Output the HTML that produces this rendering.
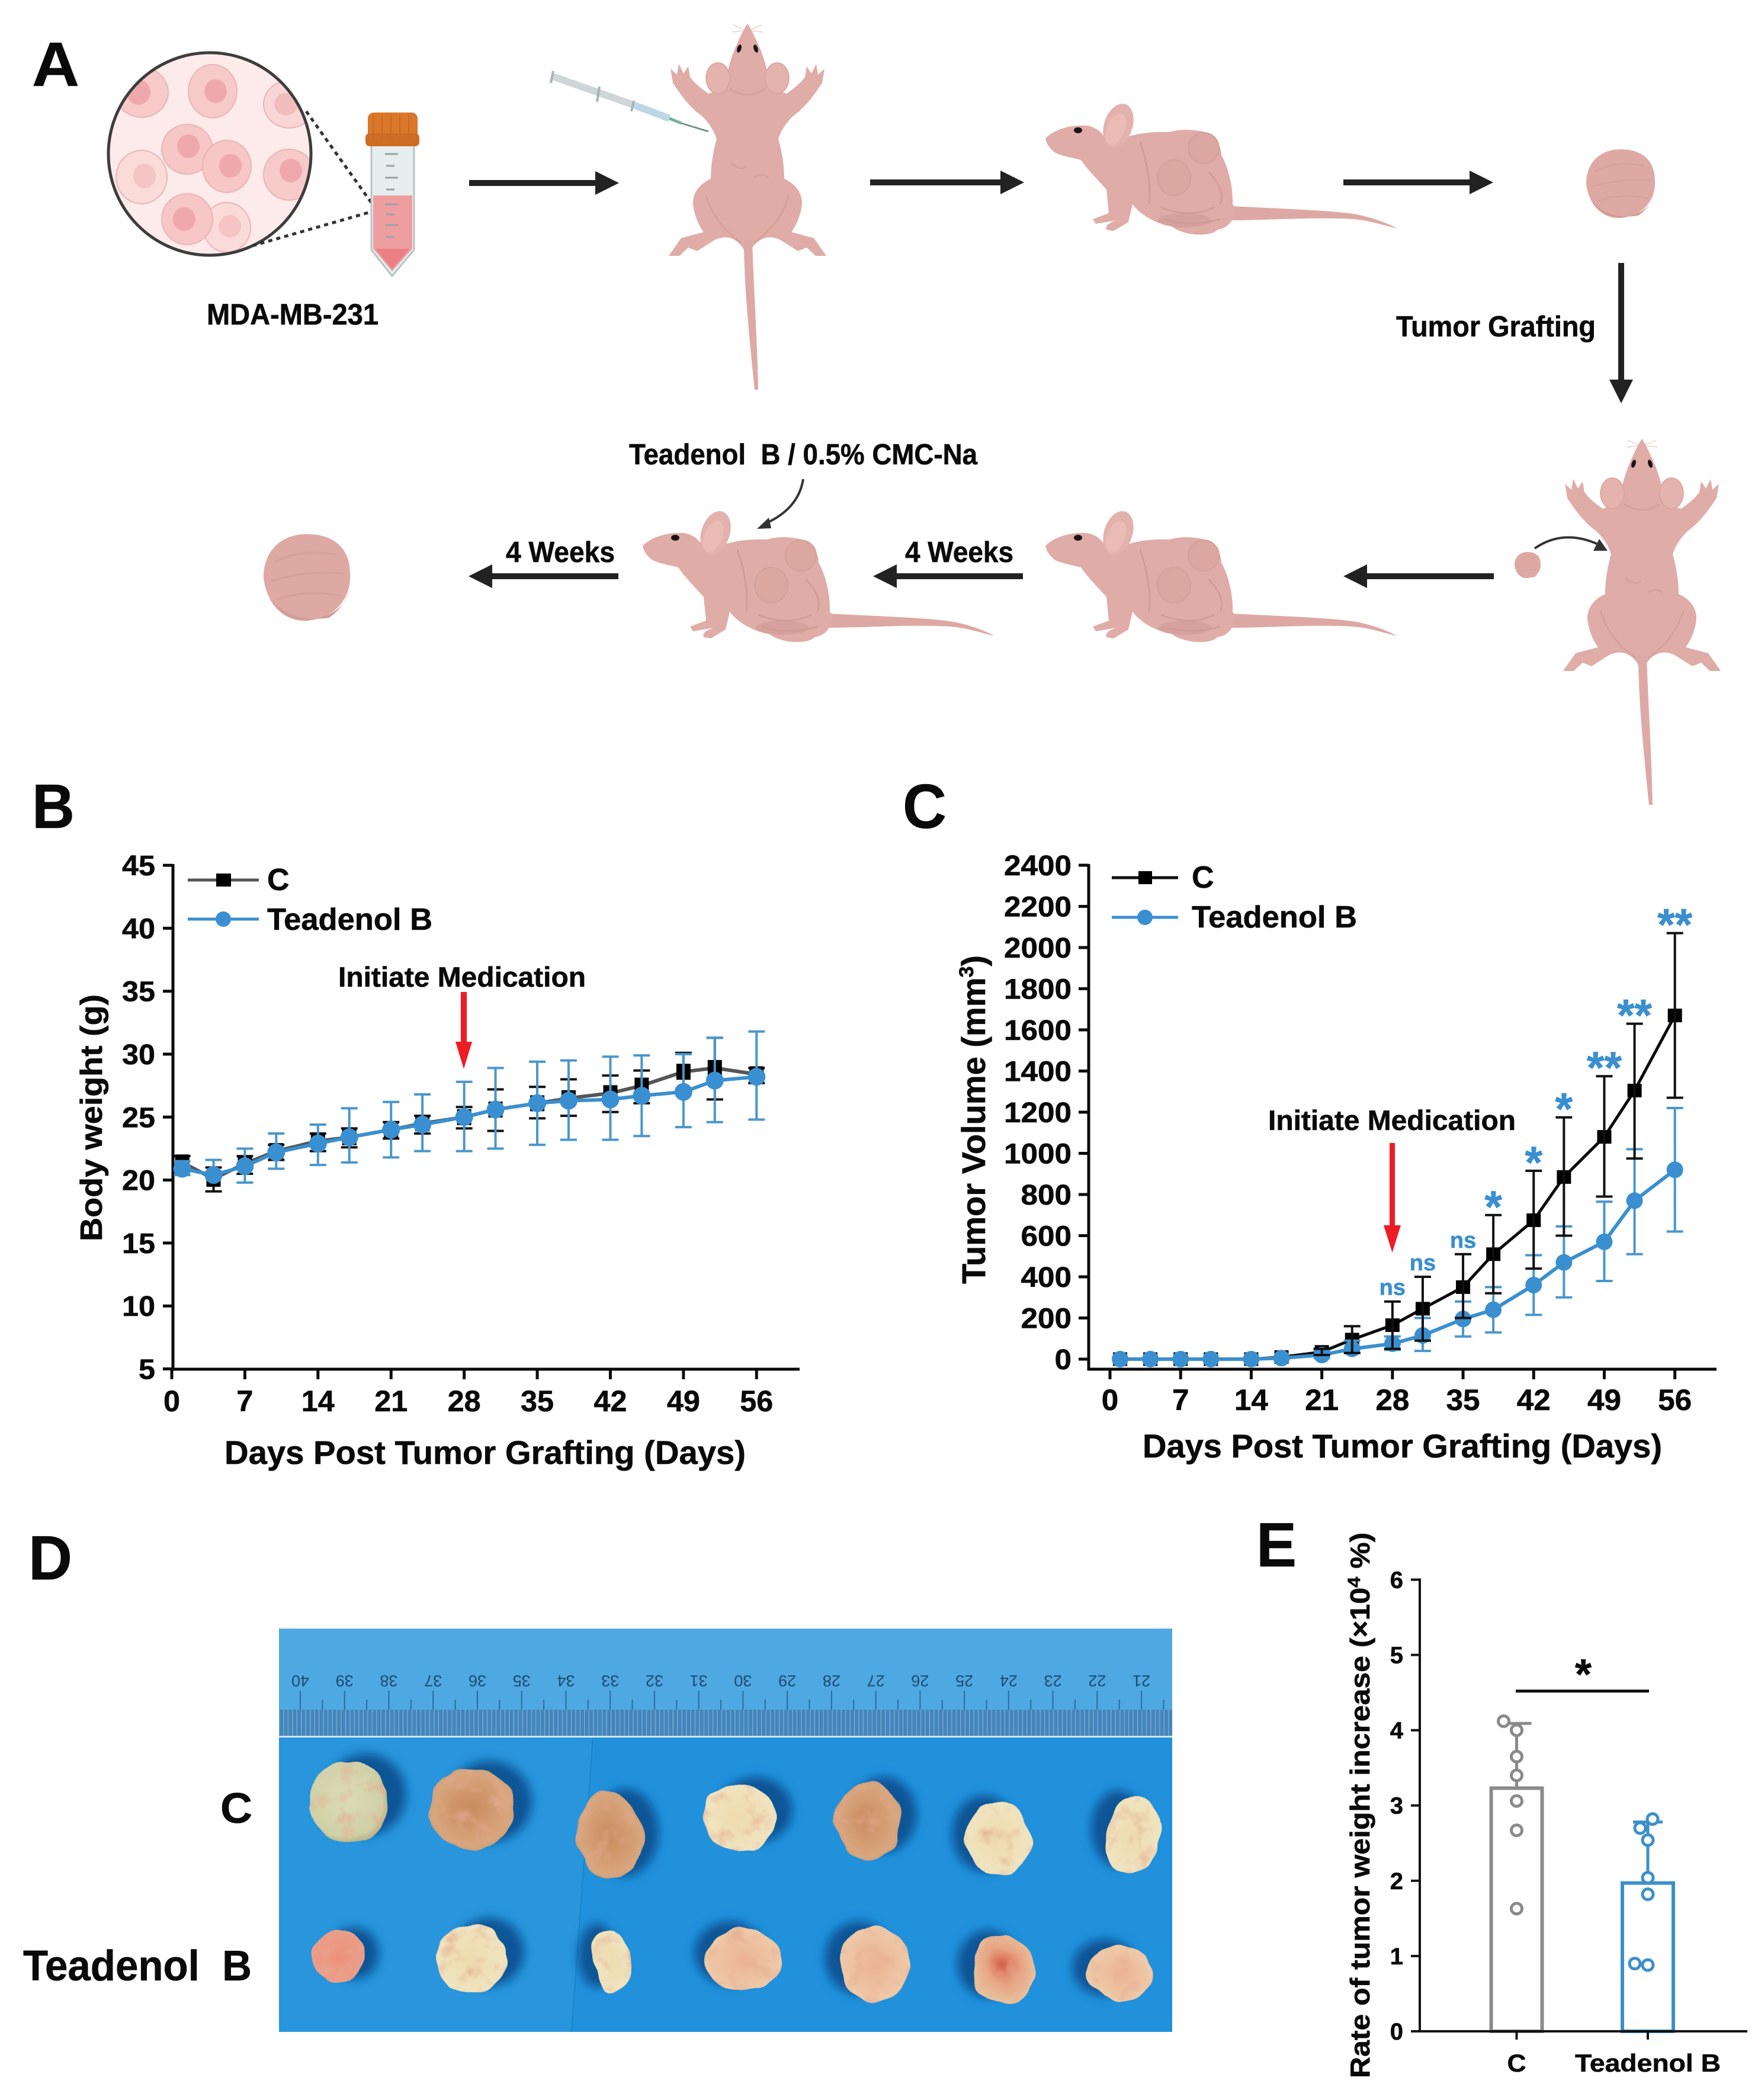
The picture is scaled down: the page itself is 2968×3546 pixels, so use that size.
<!DOCTYPE html>
<html lang="en">
<head>
<meta charset="utf-8">
<title>Teadenol B tumor xenograft figure</title>
<style>
html,body{margin:0;padding:0;background:#fff;}
svg{display:block;}
text{font-family:"Liberation Sans",sans-serif;font-weight:bold;fill:#0a0a0a;stroke:#0a0a0a;stroke-width:0.6;}
</style>
</head>
<body>
<svg id="fig" xmlns="http://www.w3.org/2000/svg" width="2968" height="3546" viewBox="0 0 2968 3546">
<defs>
  <clipPath id="lens"><circle cx="354" cy="260" r="171"/></clipPath>
  <clipPath id="photoClip"><rect x="471" y="2750" width="1508" height="681"/></clipPath>
  <filter id="soft" x="-30%" y="-30%" width="160%" height="160%"><feGaussianBlur stdDeviation="8"/></filter>
  <filter id="lump" x="-25%" y="-25%" width="150%" height="150%">
    <feTurbulence type="fractalNoise" baseFrequency="0.02" numOctaves="2" seed="7" result="shapeNoise"/>
    <feDisplacementMap in="SourceGraphic" in2="shapeNoise" scale="18" xChannelSelector="R" yChannelSelector="G" result="lumped"/>
    <feTurbulence type="fractalNoise" baseFrequency="0.035" numOctaves="3" seed="3" result="mottle"/>
    <feColorMatrix in="mottle" type="matrix" values="0 0 0 0 0.78  0 0 0 0 0.40  0 0 0 0 0.28  0 0 0 1.8 -0.9" result="blotch"/>
    <feComposite in="blotch" in2="lumped" operator="in" result="blotchIn"/>
    <feMerge><feMergeNode in="lumped"/><feMergeNode in="blotchIn"/></feMerge>
  </filter>
  <pattern id="mm" x="0" y="0" width="7.47" height="50" patternUnits="userSpaceOnUse"><rect width="7.47" height="50" fill="#4485bb"/><rect width="1.6" height="50" fill="#72a6cf"/></pattern>
  <radialGradient id="tPale" cx="45%" cy="45%" r="60%"><stop offset="0" stop-color="#dcdcb8"/><stop offset="0.8" stop-color="#cfd0a6"/><stop offset="1" stop-color="#a9a67e"/></radialGradient>
  <radialGradient id="tOrange" cx="50%" cy="50%" r="60%"><stop offset="0" stop-color="#c98a5c"/><stop offset="0.75" stop-color="#d8a67e"/><stop offset="1" stop-color="#b9966e"/></radialGradient>
  <radialGradient id="tCream" cx="50%" cy="50%" r="60%"><stop offset="0" stop-color="#eedcae"/><stop offset="0.8" stop-color="#efe3bf"/><stop offset="1" stop-color="#c9bd8e"/></radialGradient>
  <radialGradient id="tPeach" cx="50%" cy="50%" r="60%"><stop offset="0" stop-color="#ecb294"/><stop offset="0.8" stop-color="#eec9a8"/><stop offset="1" stop-color="#d2ad8e"/></radialGradient>
  <radialGradient id="tPink" cx="50%" cy="50%" r="60%"><stop offset="0" stop-color="#ee8f78"/><stop offset="1" stop-color="#e9a18e"/></radialGradient>
  <radialGradient id="tRed" cx="50%" cy="45%" r="60%"><stop offset="0" stop-color="#d65f4c"/><stop offset="0.45" stop-color="#e8a382"/><stop offset="1" stop-color="#e6cda6"/></radialGradient>

  <g id="mouse-top">
    <path fill="#dfaca7" d="M0,40 C-6,48 -14,66 -22,84 C-28,100 -32,112 -34,125 L-40,150 L-66,158 C-78,150 -90,140 -97,130 L-100,112 L-108,124 L-116,108 L-119,126 L-130,116 L-126,140 C-118,152 -100,180 -78,195 C-62,210 -55,225 -52,235 C-58,255 -62,280 -62,302 C-80,310 -93,325 -92,345 C-90,362 -84,378 -74,392 L-112,402 L-133,432 L-115,432 L-100,418 L-85,424 L-60,408 C-40,395 -20,400 -7,420 L-3,430 L3,430 L7,420 C20,400 40,395 60,408 L85,424 L100,418 L115,432 L133,432 L112,402 L74,392 C84,378 90,362 92,345 C93,325 80,310 62,302 C62,280 58,255 52,235 C55,225 62,210 78,195 C100,180 118,152 126,140 L130,116 L119,126 L116,108 L108,124 L100,112 L97,130 C90,140 78,150 66,158 L40,150 L34,125 C32,112 28,100 22,84 C14,66 6,48 0,40 Z"/>
    <path fill="#dda9a4" d="M-6,405 C-6,480 2,560 12,658 L18,658 C16,560 10,480 8,405 Z"/>
    <ellipse cx="-50" cy="132" rx="20" ry="26" fill="#e4b3ae" stroke="#d9a29c" stroke-width="1.500"/>
    <ellipse cx="50" cy="132" rx="20" ry="26" fill="#e4b3ae" stroke="#d9a29c" stroke-width="1.500"/>
    <ellipse cx="-14" cy="82" rx="3.500" ry="7" fill="#1c1414" transform="rotate(18 -14 82)"/>
    <ellipse cx="14" cy="82" rx="3.500" ry="7" fill="#1c1414" transform="rotate(-18 14 82)"/>
    <path d="M-30,150 Q0,170 30,150 M-28,275 Q-10,290 -2,280 M10,300 Q25,290 35,300 M-70,330 Q-55,380 -10,410 M70,330 Q55,380 10,410" fill="none" stroke="#d4a09a" stroke-width="2.500"/>
    <path d="M-6,50 L-24,42 M-6,52 L-26,54 M6,50 L24,42 M6,52 L26,54" stroke="#e8cfcb" stroke-width="1.500"/>
  </g>

  <g id="mouse-side">
    <path fill="#dda8a3" d="M2078,348 C2150,352 2250,355 2290,362 C2320,368 2345,378 2359,386 C2335,380 2310,372 2285,370 C2220,366 2140,372 2078,372 Z"/>
    <path fill="#dfaca7" d="M1765,234 C1775,222 1800,212 1825,212 C1840,210 1855,218 1862,228 L1900,232 C1925,224 1950,222 1975,223 C1990,218 2010,218 2030,222 C2050,228 2062,245 2062,262 C2075,285 2082,320 2081,345 L2085,350 C2085,370 2075,385 2055,388 C2050,395 2030,398 2010,395 C1995,392 1985,388 1978,382 C1950,378 1925,362 1912,345 L1905,375 L1880,390 L1868,388 C1865,380 1875,375 1885,372 L1850,378 L1845,370 L1872,360 L1868,320 C1850,300 1835,285 1825,270 C1805,265 1785,262 1778,255 C1770,248 1766,240 1765,234 Z"/>
    <ellipse cx="1888" cy="212" rx="24" ry="38" fill="#e3b2ac" transform="rotate(18 1888 212)"/>
    <ellipse cx="1884" cy="218" rx="15" ry="28" fill="#ebbcb5" transform="rotate(22 1884 218)"/>
    <ellipse cx="1820" cy="220" rx="7" ry="5" fill="#1c1414"/>
    <ellipse cx="1982" cy="300" rx="28" ry="30" fill="#dca6a1" stroke="#d4a09a" stroke-width="2"/>
    <ellipse cx="2032" cy="250" rx="26" ry="26" fill="#dca6a1" stroke="#d4a09a" stroke-width="2"/>
    <path d="M1925,240 Q1945,300 1940,345 M1960,350 Q2010,370 2050,350 M1965,370 Q2010,385 2060,370 M2040,290 Q2070,320 2060,345" fill="none" stroke="#d09b95" stroke-width="2.500"/>
    <ellipse cx="2000" cy="372" rx="45" ry="12" fill="#cf9a94" opacity="0.6"/>
  </g>

  <g id="tumor-ball">
    <path d="M-58,0 C-58,-35 -35,-58 0,-58 C35,-58 58,-40 58,-5 C60,25 40,55 0,58 C-35,60 -55,30 -58,0 Z" fill="#dfa9a3"/>
    <path d="M-44,-20 Q-5,-40 40,-30 M-48,5 Q0,-10 50,-5 M-40,30 Q0,15 46,25" stroke="#d7a09a" stroke-width="2.500" fill="none"/>
    <path d="M-50,28 Q-20,62 30,54 Q50,40 56,18 Q50,50 0,58 Q-35,55 -50,28" fill="#d29d97"/>
  </g>
</defs>

<rect width="2968" height="3546" fill="#ffffff"/>

<!-- Panel letters -->
<text x="54" y="145" font-size="106" textLength="80" lengthAdjust="spacingAndGlyphs">A</text>
<text x="54" y="1398" font-size="106" textLength="72" lengthAdjust="spacingAndGlyphs">B</text>
<text x="1524" y="1398" font-size="106" textLength="74" lengthAdjust="spacingAndGlyphs">C</text>
<text x="48" y="2667" font-size="106" textLength="74" lengthAdjust="spacingAndGlyphs">D</text>
<text x="2121" y="2645" font-size="106" textLength="68" lengthAdjust="spacingAndGlyphs">E</text>

<!-- Panel A schematic -->
<g>
  <g>
    <circle cx="354" cy="260" r="171" fill="#fdeaea"/>
    <g clip-path="url(#lens)" stroke="#e9b5b5" stroke-width="2">
      <ellipse cx="239" cy="156" rx="45" ry="42" fill="#f7c9c9"/><ellipse cx="234" cy="156" rx="20" ry="21" fill="#efa9ad" stroke="none"/>
      <ellipse cx="359" cy="154" rx="41" ry="45" fill="#f7caca"/><ellipse cx="364" cy="154" rx="19" ry="20" fill="#efa9ad" stroke="none"/>
      <ellipse cx="488" cy="176" rx="43" ry="40" fill="#f9d6d6"/><ellipse cx="483" cy="176" rx="20" ry="19" fill="#f3bdbd" stroke="none"/>
      <ellipse cx="239" cy="299" rx="43" ry="45" fill="#fbdada"/><ellipse cx="244" cy="297" rx="19" ry="21" fill="#f5c4c4" stroke="none"/>
      <ellipse cx="488" cy="295" rx="43" ry="43" fill="#f7caca"/><ellipse cx="491" cy="288" rx="19" ry="20" fill="#efa9ad" stroke="none"/>
      <ellipse cx="383" cy="384" rx="40" ry="42" fill="#fbdada"/><ellipse cx="388" cy="382" rx="19" ry="19" fill="#f5c4c4" stroke="none"/>
      <ellipse cx="316" cy="252" rx="43" ry="42" fill="#f7c6c6"/><ellipse cx="318" cy="247" rx="19" ry="20" fill="#efa9ad" stroke="none"/>
      <ellipse cx="383" cy="281" rx="41" ry="44" fill="#f7c6c6"/><ellipse cx="389" cy="280" rx="19" ry="20" fill="#efa9ad" stroke="none"/>
      <ellipse cx="316" cy="370" rx="43" ry="43" fill="#f7c6c6"/><ellipse cx="311" cy="370" rx="19" ry="20" fill="#efa9ad" stroke="none"/>
    </g>
    <circle cx="354" cy="260" r="171" fill="none" stroke="#3d3d3d" stroke-width="5"/>
  </g>
  <path d="M517,188 L636,355 M426,415 L636,355" stroke="#333" stroke-width="5" stroke-dasharray="7 7" fill="none"/>
  <g>
    <path d="M627,245 L699,245 L699,422 L662,466 L627,422 Z" fill="#e7eef0" stroke="#b9c2c6" stroke-width="3"/>
    <path d="M630,330 L696,330 L696,420 L662,458 L630,420 Z" fill="#ef9ea0"/>
    <path d="M634,420 L692,420 L662,454 Z" fill="#ea7f86"/>
    <path d="M650,260 h22 M652,280 h14 M650,300 h22 M652,320 h14 M650,345 h22 M652,362 h14 M650,380 h22 M652,400 h14" stroke="#98a2a6" stroke-width="3" fill="none"/>
    <rect x="621" y="190" width="84" height="48" rx="10" fill="#d9772a"/>
    <rect x="617" y="225" width="91" height="22" rx="7" fill="#cf6d25"/>
    <path d="M630,195 v40 M645,195 v40 M660,195 v40 M675,195 v40 M690,195 v40" stroke="#c96a22" stroke-width="2"/>
  </g>
  <text x="349" y="548" font-size="50" textLength="290" lengthAdjust="spacingAndGlyphs">MDA-MB-231</text>

  <g>
    <path d="M933,129 L1072,178" stroke="#cfd6d8" stroke-width="12" fill="none"/>
    <path d="M1072,178 L1130,200" stroke="#bdd6e4" stroke-width="12" fill="none"/>
    <path d="M1130,200 L1150,208" stroke="#6fb59c" stroke-width="5" fill="none"/>
    <path d="M1150,208 L1196,222" stroke="#7d8a90" stroke-width="3" fill="none"/>
    <path d="M934,120 L930,140 M1012,146 L1008,172 M1070,170 L1066,188" stroke="#aab3b6" stroke-width="4" fill="none"/>
  </g>

  <use href="#mouse-top" transform="translate(1262,0)"/>
  <use href="#mouse-side"/>
  <use href="#tumor-ball" transform="translate(2736,310)"/>
  <use href="#mouse-top" transform="translate(2772,701)"/>
  <use href="#mouse-side" transform="translate(0,688)"/>
  <use href="#mouse-side" transform="translate(-680,688)"/>
  <use href="#tumor-ball" transform="translate(518,975) scale(1.26)"/>
  <use href="#tumor-ball" transform="translate(2579,954) scale(0.38)"/>

  <path d="M2591,926 Q2640,892 2700,920" fill="none" stroke="#333" stroke-width="4"/>
  <polygon points="2714,930 2690,930 2700,910" fill="#333"/>
  <path d="M1356,809 Q1348,860 1290,885" fill="none" stroke="#333" stroke-width="4"/>
  <polygon points="1278,893 1298,874 1302,892" fill="#333"/>

  <g fill="#222">
    <path d="M792,304 H1005 V289 L1045,309 L1005,329 V314 H792 Z"/>
    <path d="M1469,303 H1689 V288 L1729,308 L1689,328 V313 H1469 Z"/>
    <path d="M2268,303 H2481 V288 L2521,308 L2481,328 V313 H2268 Z"/>
    <path d="M2732,444 H2742 V641 H2757 L2737,681 L2717,641 H2732 Z"/>
    <path d="M2522,968 H2308 V953 L2268,973 L2308,993 V978 H2522 Z"/>
    <path d="M1727,968 H1514 V953 L1474,973 L1514,993 V978 H1727 Z"/>
    <path d="M1044,968 H831 V953 L791,973 L831,993 V978 H1044 Z"/>
  </g>
  <text x="2357" y="568" font-size="49" textLength="337" lengthAdjust="spacingAndGlyphs">Tumor Grafting</text>
  <text x="1062" y="784" font-size="49" textLength="588" lengthAdjust="spacingAndGlyphs">Teadenol&#160; B / 0.5% CMC-Na</text>
  <text x="854" y="949" font-size="49" textLength="184" lengthAdjust="spacingAndGlyphs">4 Weeks</text>
  <text x="1528" y="949" font-size="49" textLength="183" lengthAdjust="spacingAndGlyphs">4 Weeks</text>
</g>

<!-- Panel B -->
<g id="panelB">
  <text transform="translate(172,2096) rotate(-90)" font-size="52" textLength="417" lengthAdjust="spacingAndGlyphs">Body weight (g)</text>
  <text x="379" y="2472" font-size="56" textLength="880" lengthAdjust="spacingAndGlyphs">Days Post Tumor Grafting (Days)</text>
  <text x="571" y="1666" font-size="47" textLength="418" lengthAdjust="spacingAndGlyphs">Initiate Medication</text>
  <path d="M778,1675 H788 V1759 H797 L783,1805 L769,1759 H778 Z" fill="#ee1c25"/>
  <g>
    <line x1="317" x2="437" y1="1486" y2="1486" stroke="#555" stroke-width="5"/>
    <rect x="365" y="1475" width="25" height="22" fill="#000"/>
    <text x="451" y="1503" font-size="52">C</text>
    <line x1="317" x2="437" y1="1552" y2="1552" stroke="#3a8fd0" stroke-width="5"/>
    <circle cx="377" cy="1552" r="13" fill="#3a8fd0"/>
    <text x="451" y="1570" font-size="52" textLength="279" lengthAdjust="spacingAndGlyphs">Teadenol B</text>
  </g>
</g>

<!-- Panel C -->
<g id="panelC">
  <text transform="translate(1663,2168) rotate(-90)" font-size="56">Tumor Volume (mm<tspan font-size="34" dy="-20">3</tspan><tspan dy="20">)</tspan></text>
  <text x="1929" y="2461" font-size="56" textLength="877" lengthAdjust="spacingAndGlyphs">Days Post Tumor Grafting (Days)</text>
  <text x="2141" y="1908" font-size="47" textLength="418" lengthAdjust="spacingAndGlyphs">Initiate Medication</text>
  <path d="M2346,1930 H2355 V2069 H2365 L2350.500,2115 L2336,2069 H2346 Z" fill="#ee1c25"/>
  <g>
    <line x1="1877" x2="1989" y1="1482" y2="1482" stroke="#111" stroke-width="5"/>
    <rect x="1922" y="1471" width="23" height="22" fill="#000"/>
    <text x="2012" y="1499" font-size="52">C</text>
    <line x1="1877" x2="1989" y1="1549" y2="1549" stroke="#3a8fd0" stroke-width="5"/>
    <circle cx="1933" cy="1549" r="13" fill="#3a8fd0"/>
    <text x="2012" y="1566" font-size="52" textLength="279" lengthAdjust="spacingAndGlyphs">Teadenol B</text>
  </g>
</g>

<!-- Panel D -->
<g>
  <text x="372" y="3078" font-size="72" textLength="54" lengthAdjust="spacingAndGlyphs">C</text>
  <text x="39" y="3344" font-size="72" textLength="386" lengthAdjust="spacingAndGlyphs">Teadenol&#160; B</text>
  <g clip-path="url(#photoClip)">
    <rect x="471" y="2933" width="1508" height="498" fill="#2191dc"/>
    <polygon points="471,2933 1001,2933 965,3431 471,3431" fill="#2895dc"/>
    <line x1="1001" y1="2935" x2="965" y2="3431" stroke="#1d82c8" stroke-width="2"/>
    <rect x="471" y="2750" width="1508" height="183" fill="#4ea8e2"/>
    <rect x="471" y="2887" width="1508" height="46" fill="url(#mm)"/>
    <rect x="471" y="2931" width="1508" height="3" fill="#cfe7f6"/>
    <g id="rulerMarks"></g>
    <g fill="#0b5596" filter="url(#soft)">
      <ellipse cx="618" cy="3030" rx="68" ry="69"/><ellipse cx="826" cy="3042" rx="72" ry="69"/><ellipse cx="1056" cy="3094" rx="56" ry="74"/><ellipse cx="1276" cy="3056" rx="62" ry="56"/><ellipse cx="1492" cy="3064" rx="56" ry="64"/><ellipse cx="1662" cy="3096" rx="55" ry="65"/><ellipse cx="1888" cy="3088" rx="46" ry="65"/>
      <ellipse cx="598" cy="3298" rx="42" ry="44"/><ellipse cx="826" cy="3296" rx="59" ry="58"/><ellipse cx="1008" cy="3302" rx="32" ry="54"/><ellipse cx="1232" cy="3298" rx="60" ry="54"/><ellipse cx="1450" cy="3306" rx="58" ry="62"/><ellipse cx="1668" cy="3316" rx="52" ry="57"/><ellipse cx="1866" cy="3322" rx="56" ry="48"/>
    </g>
    <g filter="url(#lump)">
      <ellipse cx="588" cy="3042" rx="68" ry="69" fill="url(#tPale)"/>
      <ellipse cx="795" cy="3055" rx="72" ry="69" fill="url(#tOrange)"/>
      <ellipse cx="1029" cy="3100" rx="56" ry="74" fill="url(#tOrange)" transform="rotate(-5 1029 3100)"/>
      <ellipse cx="1248" cy="3068" rx="62" ry="56" fill="url(#tCream)"/>
      <ellipse cx="1464" cy="3074" rx="56" ry="64" fill="url(#tOrange)"/>
      <ellipse cx="1686" cy="3105" rx="55" ry="65" fill="url(#tCream)" transform="rotate(-10 1686 3105)"/>
      <ellipse cx="1912" cy="3098" rx="46" ry="65" fill="url(#tCream)" transform="rotate(6 1912 3098)"/>
    </g>
    <g filter="url(#lump)">
      <ellipse cx="571" cy="3305" rx="42" ry="44" fill="url(#tPink)"/>
      <ellipse cx="795" cy="3308" rx="59" ry="58" fill="url(#tCream)" transform="rotate(-15 795 3308)"/>
      <ellipse cx="1033" cy="3310" rx="33" ry="54" fill="url(#tCream)" transform="rotate(-8 1033 3310)"/>
      <ellipse cx="1255" cy="3308" rx="63" ry="54" fill="url(#tPeach)"/>
      <ellipse cx="1477" cy="3317" rx="58" ry="62" fill="url(#tPeach)"/>
      <ellipse cx="1693" cy="3326" rx="52" ry="57" fill="url(#tRed)"/>
      <ellipse cx="1893" cy="3331" rx="56" ry="48" fill="url(#tPeach)"/>
    </g>
  </g>
</g>

<!-- Panel E -->
<g id="panelE">
  <text transform="translate(2312,3509) rotate(-90) scale(1.086,1)" font-size="46">Rate of tumor weight increase (×10<tspan font-size="30" dy="-16">4</tspan><tspan dy="16"> %)</tspan></text>
  <line x1="2559" x2="2784" y1="2855.500" y2="2855.500" stroke="#111" stroke-width="5"/>
  <text x="2673" y="2852" font-size="72" text-anchor="middle">*</text>
</g>

<script>
// ---------- Panel B data (body weight, g) ----------
const bodyDays = [1, 4, 7, 10, 14, 17, 21, 24, 28, 31, 35, 38, 42, 45, 49, 52, 56];
const bodyControl = [21.4, 20.1, 21.3, 22.3, 23.1, 23.4, 24.0, 24.5, 25.0, 25.6, 26.1, 26.5, 26.9, 27.5, 28.6, 28.9, 28.4];
const bodyControlHigh = [21.9, 21.0, 21.9, 22.8, 23.7, 24.1, 24.6, 25.1, 25.8, 27.2, 27.4, 28.0, 28.3, 28.7, 30.1, 31.3, 28.9];
const bodyControlLow = [20.7, 19.1, 20.5, 21.6, 22.3, 22.6, 23.3, 23.7, 24.1, 23.9, 24.9, 25.1, 25.4, 26.1, 27.2, 26.4, 27.7];
const bodyDrug = [20.9, 20.4, 21.1, 22.2, 22.9, 23.4, 24.0, 24.4, 25.0, 25.6, 26.1, 26.3, 26.4, 26.7, 27.0, 27.9, 28.2];
const bodyDrugHigh = [21.5, 21.6, 22.5, 23.7, 24.4, 25.7, 26.2, 26.8, 27.8, 28.9, 29.4, 29.5, 29.8, 29.9, 30.0, 31.3, 31.8];
const bodyDrugLow = [20.4, 20.2, 19.8, 20.9, 21.2, 21.4, 21.8, 22.3, 22.3, 22.5, 22.8, 23.2, 23.2, 23.5, 24.2, 24.6, 24.8];
const bodyYTicks = [5, 10, 15, 20, 25, 30, 35, 40, 45];
const dayTicks = [0, 7, 14, 21, 28, 35, 42, 49, 56];

// ---------- Panel C data (tumor volume, mm3) ----------
const volumeDays = [1, 4, 7, 10, 14, 17, 21, 24, 28, 31, 35, 38, 42, 45, 49, 52, 56];
const volumeControl = [0, 0, 0, 0, 0, 10, 35, 95, 165, 245, 350, 510, 675, 885, 1080, 1305, 1670];
const volumeControlHigh = [0, 0, 0, 0, 0, 10, 50, 160, 280, 400, 510, 700, 915, 1175, 1375, 1630, 2070];
const volumeControlLow = [0, 0, 0, 0, 0, 10, 20, 30, 50, 90, 200, 320, 440, 600, 790, 975, 1270];
const volumeDrug = [0, 0, 0, 0, 0, 5, 20, 50, 75, 115, 195, 240, 360, 470, 570, 770, 920];
const volumeDrugHigh = [0, 0, 0, 0, 0, 5, 40, 90, 110, 200, 280, 350, 505, 645, 765, 1020, 1220];
const volumeDrugLow = [0, 0, 0, 0, 0, 5, 5, 30, 45, 40, 110, 130, 215, 300, 380, 510, 620];
const volumeYTicks = [0, 200, 400, 600, 800, 1000, 1200, 1400, 1600, 1800, 2000, 2200, 2400];
const sigDays = [28, 31, 35, 38, 42, 45, 49, 52, 56];
const sigLabels = ['ns', 'ns', 'ns', '*', '*', '*', '**', '**', '**'];

// ---------- Panel E data (rate of tumor weight increase) ----------
const rateGroups = ['C', 'Teadenol B'];
const rateMeans = [3.23, 1.97];
const rateErrorTops = [4.09, 2.78];
const ratePointsControl = [4.12, 4.0, 3.65, 3.4, 3.06, 2.67, 1.63];
const ratePointsDrug = [2.82, 2.7, 2.54, 2.04, 1.82, 0.9, 0.88];
const rateYTicks = [0, 1, 2, 3, 4, 5, 6];

// ---------- Ruler labels in the photo ----------
const rulerNumbers = [40, 39, 38, 37, 36, 35, 34, 33, 32, 31, 30, 29, 28, 27, 26, 25, 24, 23, 22, 21];

// ---------- Axis functions ----------
const bodyX = d => 290 + 17.63 * d;
const bodyY = v => 2311.5 - (v - 5) * 21.26;
const volumeX = d => 1874 + 17.03 * d;
const volumeY = v => 2295 - v * 0.3475;
const rateY = v => 3430 - v * 127.1;
const rateX = i => 2560.5 + i * 221.5;
const rulerX = n => 507 + (40 - n) * 74.74;

const NS = 'http://www.w3.org/2000/svg';
function mk(parent, tag, props) {
  const el = document.createElementNS(NS, tag);
  for (const k in props) el.setAttribute(k, props[k]);
  parent.appendChild(el);
  return el;
}

function drawAxes(root, o) {
  const yAxis = mk(root, 'line', {x1: o.axisX, x2: o.axisX, y1: o.top - 2, y2: o.axisY + 2, stroke: '#0a0a0a', 'stroke-width': 5});
  
  
  const xAxis = mk(root, 'line', {x1: o.xStart, x2: o.axisEnd, y1: o.axisY, y2: o.axisY, stroke: '#0a0a0a', 'stroke-width': 5});
  
  
  o.yTicks.forEach(v => {
    const t = mk(root, 'line', {x1: o.axisX - 17, x2: o.axisX, y1: o.y(v), y2: o.y(v), stroke: '#0a0a0a', 'stroke-width': 5});
    
    
    const s = String(v);
    const l = mk(root, 'text', {x: o.yLabelRight - s.length * o.digitW, y: o.y(v) + 17, 'font-size': 48, textLength: s.length * o.digitW, lengthAdjust: 'spacingAndGlyphs'});
    
    
    l.textContent = s;
  });
  dayTicks.forEach(d => {
    const t = mk(root, 'line', {x1: o.x(d), x2: o.x(d), y1: o.axisY, y2: o.axisY + 17, stroke: '#0a0a0a', 'stroke-width': 5});
    
    
    const s = String(d);
    const w = s.length * o.digitW;
    const l = mk(root, 'text', {x: o.x(d) - w / 2, y: o.xLabelY, 'font-size': 50, textLength: w, lengthAdjust: 'spacingAndGlyphs'});
    
    
    l.textContent = s;
  });
}

function drawErrors(root, days, high, low, x, y, color) {
  days.forEach((d, i) => {
    if (high[i] === low[i]) return;
    const stem = mk(root, 'line', {x1: x(d), x2: x(d), y1: y(high[i]), y2: y(low[i]), stroke: color, 'stroke-width': 4});
    
    
    const capHigh = mk(root, 'line', {x1: x(d) - 14, x2: x(d) + 14, y1: y(high[i]), y2: y(high[i]), stroke: color, 'stroke-width': 4});
    
    
    const capLow = mk(root, 'line', {x1: x(d) - 14, x2: x(d) + 14, y1: y(low[i]), y2: y(low[i]), stroke: color, 'stroke-width': 4});
    
    
  });
}

function drawLine(root, days, vals, x, y, color, name, width) {
  const pts = days.map((d, i) => x(d) + ',' + y(vals[i])).join(' ');
  const line = mk(root, 'polyline', {points: pts, fill: 'none', stroke: color, 'stroke-width': width, 'stroke-linejoin': 'round'});
  
  
}

function drawSquares(root, days, vals, x, y, h) {
  days.forEach((d, i) => {
    const m = mk(root, 'rect', {x: x(d) - 12, y: y(vals[i]) - h / 2, width: 24, height: h, fill: '#000'});
    
    
  });
}

function drawCircles(root, days, vals, x, y, r) {
  days.forEach((d, i) => {
    const m = mk(root, 'circle', {cx: x(d), cy: y(vals[i]), r: r, fill: '#3a8fd0'});
    
    
  });
}

// Panel B
const gB = document.getElementById('panelB');
drawAxes(gB, {axisX: 292, axisY: 2312, top: 1461, xStart: 290, axisEnd: 1350, x: bodyX, y: bodyY, yTicks: bodyYTicks, yLabelRight: 262, digitW: 28, xLabelY: 2383});
drawErrors(gB, bodyDays, bodyControlHigh, bodyControlLow, bodyX, bodyY, '#111');
drawLine(gB, bodyDays, bodyControl, bodyX, bodyY, '#555', 'control-line', 6);
drawSquares(gB, bodyDays, bodyControl, bodyX, bodyY, 27);
drawErrors(gB, bodyDays, bodyDrugHigh, bodyDrugLow, bodyX, bodyY, '#4a96cc');
drawLine(gB, bodyDays, bodyDrug, bodyX, bodyY, '#3a8fd0', 'teadenol-b-line', 6);
drawCircles(gB, bodyDays, bodyDrug, bodyX, bodyY, 15);

// Panel C
const gC = document.getElementById('panelC');
drawAxes(gC, {axisX: 1838, axisY: 2312, top: 1461, xStart: 1836, axisEnd: 2898, x: volumeX, y: volumeY, yTicks: volumeYTicks, yLabelRight: 1809, digitW: 28.5, xLabelY: 2381});
drawLine(gC, volumeDays, volumeControl, volumeX, volumeY, '#0a0a0a', 'control-line', 5);
drawSquares(gC, volumeDays, volumeControl, volumeX, volumeY, 23);
drawErrors(gC, volumeDays, volumeDrugHigh, volumeDrugLow, volumeX, volumeY, '#4a96cc');
drawLine(gC, volumeDays, volumeDrug, volumeX, volumeY, '#3a8fd0', 'teadenol-b-line', 6);
drawCircles(gC, volumeDays, volumeDrug, volumeX, volumeY, 14);
drawErrors(gC, volumeDays, volumeControlHigh, volumeControlLow, volumeX, volumeY, '#111');
sigDays.forEach((d, i) => {
  const idx = volumeDays.indexOf(d);
  const top = volumeY(volumeControlHigh[idx]);
  const isNs = sigLabels[i] === 'ns';
  const s = mk(gC, 'text', {x: volumeX(d), y: isNs ? top - 11 : top + 12, 'font-size': isNs ? 38 : 76, 'text-anchor': 'middle'});
  
  
  s.style.fill = '#3a8fd0';
  s.style.stroke = '#3a8fd0';
  s.textContent = sigLabels[i];
});

// Panel E
const gE = document.getElementById('panelE');
const eAxisY = mk(gE, 'line', {x1: 2397, x2: 2397, y1: rateY(6) - 2, y2: rateY(0) + 2, stroke: '#111', 'stroke-width': 4});


rateYTicks.forEach(v => {
  const t = mk(gE, 'line', {x1: 2382, x2: 2397, y1: rateY(v), y2: rateY(v), stroke: '#111', 'stroke-width': 4});
  
  
  const l = mk(gE, 'text', {x: 2369, y: rateY(v) + 14, 'font-size': 40, 'text-anchor': 'end'});
  
  
  l.textContent = String(v);
});
const rateColors = ['#8a8a8a', '#3d8fca'];
const ratePoints = [ratePointsControl, ratePointsDrug];
function swarmShift(i, arr, k) {
  const closeNext = k + 1 < arr.length && Math.abs(arr[k] - arr[k + 1]) < 0.13;
  const closePrev = k > 0 && Math.abs(arr[k] - arr[k - 1]) < 0.13;
  if (i === 1 && arr[k] > rateMeans[i]) {
    if (closeNext) return 8;
    if (closePrev) return -13;
    return 0;
  }
  return closeNext ? -22 : 0;
}
rateGroups.forEach((g, i) => {
  const cx = rateX(i);
  const stem = mk(gE, 'line', {x1: cx, x2: cx, y1: rateY(rateErrorTops[i]), y2: rateY(rateMeans[i]), stroke: rateColors[i], 'stroke-width': 5});
  
  
  const cap = mk(gE, 'line', {x1: cx - 25, x2: cx + 25, y1: rateY(rateErrorTops[i]), y2: rateY(rateErrorTops[i]), stroke: rateColors[i], 'stroke-width': 5});
  
  
  const bar = mk(gE, 'rect', {x: cx - 43, y: rateY(rateMeans[i]), width: 86, height: rateY(0) - rateY(rateMeans[i]), fill: 'none', stroke: rateColors[i], 'stroke-width': 6});
  
  
  ratePoints[i].forEach((v, k, arr) => {
    const dot = mk(gE, 'circle', {cx: cx + swarmShift(i, arr, k), cy: rateY(v), r: 9, fill: '#fff', stroke: rateColors[i], 'stroke-width': 5});
    
    
  });
  const t = mk(gE, 'line', {x1: cx, x2: cx, y1: rateY(0), y2: rateY(0) + 14, stroke: '#111', 'stroke-width': 4});
  
  
  const w = g.length > 1 ? 246 : 32;
  const l = mk(gE, 'text', {x: cx - w / 2, y: 3498, 'font-size': 42, textLength: w, lengthAdjust: 'spacingAndGlyphs'});
  
  
  l.textContent = g;
});
const eAxisX = mk(gE, 'line', {x1: 2382, x2: 2950, y1: rateY(0), y2: rateY(0), stroke: '#111', 'stroke-width': 4});



// Ruler
const gR = document.getElementById('rulerMarks');
rulerNumbers.forEach(n => {
  const x = rulerX(n);
  const major = mk(gR, 'line', {x1: x, x2: x, y1: 2855, y2: 2887, stroke: '#2d6a9c', 'stroke-width': 2});
  
  
  const minor = mk(gR, 'line', {x1: x + 37.37, x2: x + 37.37, y1: 2870, y2: 2887, stroke: '#2d6a9c', 'stroke-width': 2});
  
  
  const lab = mk(gR, 'text', {x: x, y: 2849, 'font-size': 27, 'text-anchor': 'middle', transform: 'rotate(180 ' + x + ' 2839)'});
  
  
  lab.style.fill = '#1f4a70';
  lab.style.stroke = 'none';
  lab.style.fontWeight = 'normal';
  lab.textContent = String(n);
});
</script>
</svg>
</body>
</html>
